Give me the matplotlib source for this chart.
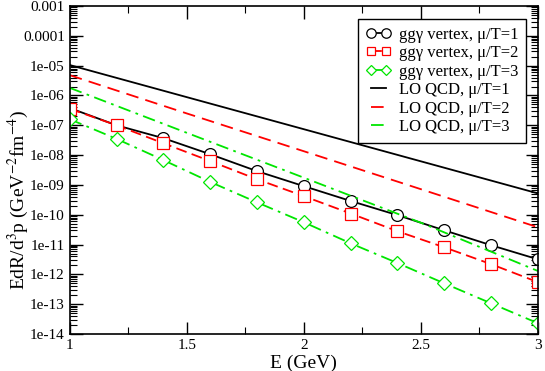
import matplotlib
matplotlib.use("Agg")
import matplotlib.pyplot as plt
import numpy as np
from matplotlib.ticker import FixedLocator, LogLocator, NullFormatter, MultipleLocator

plt.rcParams['font.family'] = 'Liberation Serif'
plt.rcParams['mathtext.fontset'] = 'stix'

# ggγ vertex points
E_pts = [1.0, 1.2, 1.4, 1.6, 1.8, 2.0, 2.2, 2.4, 2.6, 2.8, 3.0]
vert_mu1 = [3.8e-7, 1.0e-7, 3.7e-8, 1.07e-8, 2.9e-9, 9.1e-10, 2.9e-10, 9.7e-11, 3.0e-11, 9.5e-12, 3.2e-12]
vert_mu2 = [3.6e-7, 1.0e-7, 2.5e-8, 6.3e-9, 1.55e-9, 4.2e-10, 1.1e-10, 2.8e-11, 8.1e-12, 2.2e-12, 5.5e-13]
vert_mu3 = [1.6e-7, 3.5e-8, 6.8e-9, 1.26e-9, 2.6e-10, 5.6e-11, 1.1e-11, 2.4e-12, 5.0e-13, 1.07e-13, 2.3e-14]

# LO QCD curves
E_lo = [1.0, 1.5, 2.0, 2.5, 3.0]
lo_mu1 = [1.05e-5, 8.8e-7, 7.4e-8, 6.2e-9, 5.2e-10]
lo_mu2 = [4.8e-6, 2.5e-7, 1.35e-8, 7.2e-10, 3.8e-11]
lo_mu3 = [1.8e-6, 5.6e-8, 1.75e-9, 5.4e-11, 1.3e-12]

ytick_vals = [10.0**-k for k in range(3, 15)]
ytick_labels = ["0.001", "0.0001"] + ["1e-%02d" % k for k in range(5, 15)]

fig = plt.figure(figsize=(5.45, 3.71), dpi=100)
ax = fig.add_axes([0.128, 0.0997, 0.859, 0.884])

ax.plot(E_pts, vert_mu1, color='black', lw=1.3, ls='-', marker='o', ms=8.5,
        mfc='white', mec='black', mew=0.9, label='ggγ vertex, μ/T=1')
ax.plot(E_pts, vert_mu2, color='#ff0000', lw=1.3, ls=(0, (6, 3)), marker='s', ms=8,
        mfc='white', mec='#ff0000', mew=0.9, label='ggγ vertex, μ/T=2')
ax.plot(E_pts, vert_mu3, color='#00e600', lw=1.3, ls=(0, (7, 3, 1.5, 3)), marker='D', ms=7,
        mfc='white', mec='#00e600', mew=0.9, label='ggγ vertex, μ/T=3')
ax.plot(E_lo, lo_mu1, color='black', lw=1.3, ls='-', label='LO QCD, μ/T=1')
ax.plot(E_lo, lo_mu2, color='#ff0000', lw=1.3, ls=(0, (7, 4)), label='LO QCD, μ/T=2')
ax.plot(E_lo, lo_mu3, color='#00e600', lw=1.3, ls=(0, (7, 3, 1.5, 3)), label='LO QCD, μ/T=3')

ax.set_yscale('log')
ax.set_xlim(1, 3)
ax.set_ylim(1e-14, 1e-3)
ax.yaxis.set_major_locator(FixedLocator(ytick_vals))
ax.set_yticklabels(ytick_labels)
ax.yaxis.set_minor_locator(LogLocator(base=10, subs=np.arange(2, 10), numticks=20))
ax.yaxis.set_minor_formatter(NullFormatter())
ax.xaxis.set_minor_locator(MultipleLocator(0.25))
ax.set_xticks([1, 1.5, 2, 2.5, 3])
ax.set_xticklabels(["1", "1.5", "2", "2.5", "3"])

ax.tick_params(which='both', direction='in', top=True, right=True, labelsize=11)
ax.tick_params(which='major', length=9, width=1)
ax.tick_params(which='minor', length=5, width=0.8)
for sp in ax.spines.values():
    sp.set_linewidth(1.2)

ax.set_xlabel('E (GeV)', fontsize=14, labelpad=2)
ax.set_ylabel('EdR/d$^3$p (GeV$^{-2}$fm$^{-4}$)', fontsize=14)
ax.yaxis.set_label_coords(-0.082, 0.41)

leg = ax.legend(loc='upper right', fontsize=12, numpoints=2, handlelength=1.5,
                fancybox=False, edgecolor='black', framealpha=1,
                borderpad=0.45, labelspacing=0.15, handletextpad=0.5,
                borderaxespad=0, markerscale=0.8,
                bbox_to_anchor=(0.975, 0.96))
leg.get_frame().set_linewidth(1.0)

fig.savefig('out.png', dpi=100)
